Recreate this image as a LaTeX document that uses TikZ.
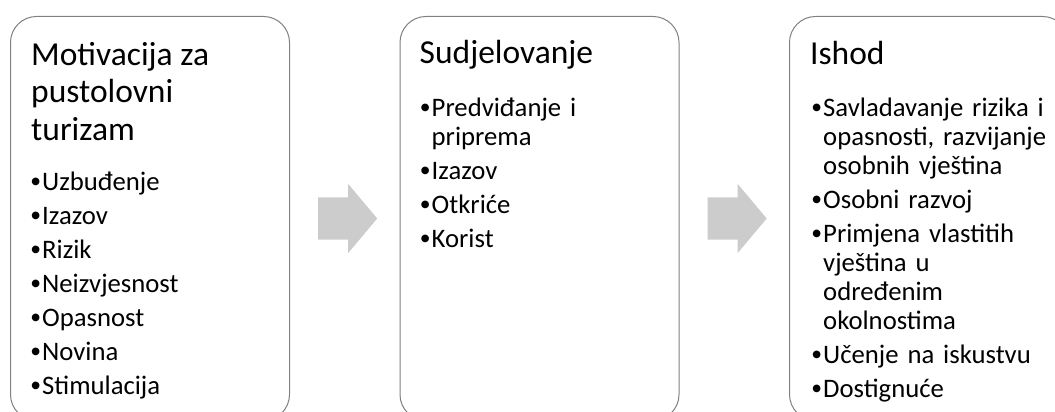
\documentclass[tikz,border=0pt]{standalone}
\usepackage{fontspec}
\setmainfont{Carlito}
\newfontfamily\znak{DejaVu Sans}
\usepackage{xcolor}
\usepackage{tikz}
\usetikzlibrary{shapes.arrows,calc}

\newsavebox\tockabox
\newcommand{\tocka}{\sbox\tockabox{\znak\fontsize{10}{10}\selectfont ●}\raisebox{\dimexpr 8pt-\ht\tockabox/2+\dp\tockabox/2\relax}{\makebox[9pt][c]{\usebox\tockabox}}}
\newcommand{\stavka}[1]{\par\hangindent=11pt\hangafter=1\noindent\makebox[11pt][l]{\tocka}#1}

\begin{document}
\begin{tikzpicture}[x=1pt, y=1pt,
	stage/.style={draw=black!50, line width=1pt, rounded corners=26pt, fill=white, minimum width=279pt, minimum height=404pt, inner sep=0pt, anchor=north west},
	naslov/.style={anchor=north west, inner sep=0pt, align=left, font=\fontsize{33.5}{37.5}\selectfont},
	popis/.style={anchor=north west, inner sep=0pt, text width=250pt, align=left, font=\fontsize{26.7}{29}\selectfont},
	flow/.style={single arrow, fill=black!20, draw=none, inner xsep=0pt, inner ysep=21pt, minimum height=59pt, single arrow head extend=13.5pt, single arrow tip angle=100, anchor=tail}]
					\clip (0,0) rectangle (1055,412);
					\node[stage] (motiv) at (10,396) {};
					\node[stage] (sudj) at (399.5,396) {};
					\node[stage] (ishod) at (789,396) {};
					\node[flow] (a1) at ([xshift=28pt]motiv.east) {};
					\node[flow] (a2) at ([xshift=28pt]sudj.east) {};
					\node[naslov] (motivnaslov) at ([xshift=21pt, yshift=-19pt]motiv.north west) {\rule{0pt}{30pt}Motivacija za\\pustolovni\\turizam};
					\node[naslov] (sudjnaslov) at ([xshift=20pt, yshift=-17pt]sudj.north west) {\rule{0pt}{30pt}Sudjelovanje};
					\node[naslov] (ishodnaslov) at ([xshift=21pt, yshift=-18pt]ishod.north west) {\rule{0pt}{30pt}Ishod};
					\node[popis] (motivpopis) at ([xshift=21pt, yshift=-140pt]motiv.north west) {\setlength{\parskip}{5pt}%
						\stavka{\rule{0pt}{26pt}Uzbuđenje}\stavka{Izazov}\stavka{Rizik}\stavka{Neizvjesnost}\stavka{Opasnost}\stavka{Novina}\stavka{Stimulacija}};
					\node[popis] (sudjpopis) at ([xshift=21pt, yshift=-66pt]sudj.north west) {\setlength{\parskip}{5pt}%
						\stavka{\rule{0pt}{26pt}Predviđanje i\newline priprema}\stavka{Izazov}\stavka{Otkriće}\stavka{Korist}};
					\node[popis] (ishodpopis) at ([xshift=23pt, yshift=-66pt]ishod.north west) {\setlength{\parskip}{5pt}%
						\stavka{\rule{0pt}{26pt}Savladavanje rizika i\newline opasnosti, razvijanje\newline osobnih vještina}\stavka{Osobni razvoj}\stavka{Primjena vlastitih\newline vještina u\newline određenim\newline okolnostima}\stavka{Učenje na iskustvu}\stavka{Dostignuće}};
				\end{tikzpicture}
\end{document}
